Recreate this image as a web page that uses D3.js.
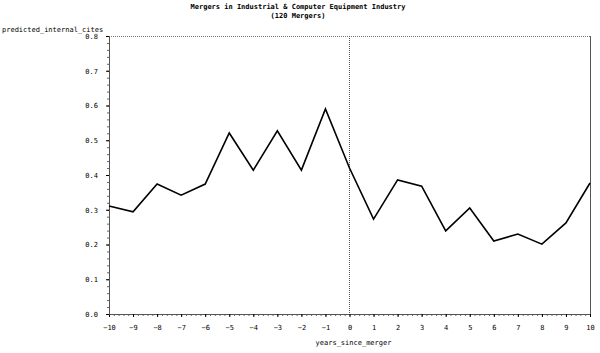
<!DOCTYPE html>
<html>
<head>
<meta charset="utf-8">
<script src="https://cdn.jsdelivr.net/npm/d3@7"></script>
<style>
  body { margin: 0; background: #fff; }
  text { font-family: "DejaVu Sans Mono", monospace; font-size: 7px; fill: #000; }
</style>
</head>
<body>
<div id="chart_container"></div>
<script>
// data
const years = [-10, -9, -8, -7, -6, -5, -4, -3, -2, -1, 0, 1, 2, 3, 4, 5, 6, 7, 8, 9, 10];
const predicted_internal_cites = [0.311, 0.294, 0.374, 0.342, 0.374, 0.521, 0.414, 0.527, 0.414, 0.590,
    0.420, 0.273, 0.386, 0.368, 0.239, 0.305, 0.210, 0.230, 0.201, 0.262, 0.377];
const y_ticks = [0, 0.1, 0.2, 0.3, 0.4, 0.5, 0.6, 0.7, 0.8];
const title_lines = ["Mergers in Industrial & Computer Equipment Industry", "(120 Mergers)"];

const width = 600, height = 353;
const margin = { top: 36, right: 10, bottom: 39, left: 109 };
const plot_w = width - margin.left - margin.right,
    plot_h = height - margin.top - margin.bottom;

const svg = d3.select("#chart_container")
    .append("svg")
    .attr("width", width)
    .attr("height", height);

// titles
svg.selectAll(".title")
    .data(title_lines)
    .enter()
    .append("text")
    .attr("x", 298)
    .attr("y", (d, i) => 9 + i * 9)
    .attr("text-anchor", "middle")
    .style("font-weight", "bold")
    .text(d => d);

const g = svg.append("g")
    .attr("transform", `translate(${margin.left}, ${margin.top})`);

const x = d3.scaleLinear().domain([-10, 10]).range([0, plot_w]);
const y = d3.scaleLinear().domain([0, 0.8]).range([plot_h, 0]);

// frame: top dotted, right solid
g.append("line")
    .attr("x1", 0).attr("x2", plot_w).attr("y1", 0.5).attr("y2", 0.5)
    .style("stroke", "#777").style("stroke-dasharray", "1,1");
g.append("line")
    .attr("x1", plot_w + 0.5).attr("x2", plot_w + 0.5).attr("y1", 0).attr("y2", plot_h)
    .style("stroke", "#555");

// minor ticks
g.append("g")
    .attr("transform", `translate(0, ${plot_h})`)
    .call(d3.axisBottom(x).tickValues(d3.range(-10, 10.01, 0.2)).tickSize(2).tickFormat(""))
    .call(a => a.select(".domain").remove())
    .selectAll("line").style("stroke", "#666");
g.append("g")
    .call(d3.axisLeft(y).tickValues(d3.range(0, 0.801, 0.02)).tickSize(2).tickFormat(""))
    .call(a => a.select(".domain").remove())
    .selectAll("line").style("stroke", "#666");

// X axis
const xAxis = g.append("g")
    .attr("transform", `translate(0, ${plot_h})`)
    .call(d3.axisBottom(x).tickValues(years).tickSize(3).tickPadding(8).tickFormat(d3.format("d")));
xAxis.select(".domain").style("stroke", "#555");
xAxis.selectAll("text").style("font-size", "7px").style("font-family", "DejaVu Sans Mono, monospace");

// Y axis
const yAxis = g.append("g")
    .call(d3.axisLeft(y).tickValues(y_ticks).tickSize(3).tickPadding(8).tickFormat(d3.format(".1f")));
yAxis.select(".domain").style("stroke", "#555");
yAxis.selectAll("text").style("font-size", "7px").style("font-family", "DejaVu Sans Mono, monospace");

// reference line at year 0
g.append("line")
    .attr("x1", x(0)).attr("x2", x(0))
    .attr("y1", 0).attr("y2", plot_h)
    .style("stroke", "#555")
    .style("stroke-dasharray", "1,1");

// axis labels
svg.append("text")
    .attr("x", 2)
    .attr("y", 32)
    .text("predicted_internal_cites");
svg.append("text")
    .attr("x", margin.left + x(0) + 4)
    .attr("y", 345)
    .attr("text-anchor", "middle")
    .text("years_since_merger");

// the line
const points = years.map((d, i) => ({ year: d, value: predicted_internal_cites[i] }));
g.append("path")
    .datum(points)
    .attr("fill", "none")
    .style("stroke", "#000")
    .style("stroke-width", 1.6)
    .attr("d", d3.line().x(d => x(d.year)).y(d => y(d.value)));
</script>
</body>
</html>
